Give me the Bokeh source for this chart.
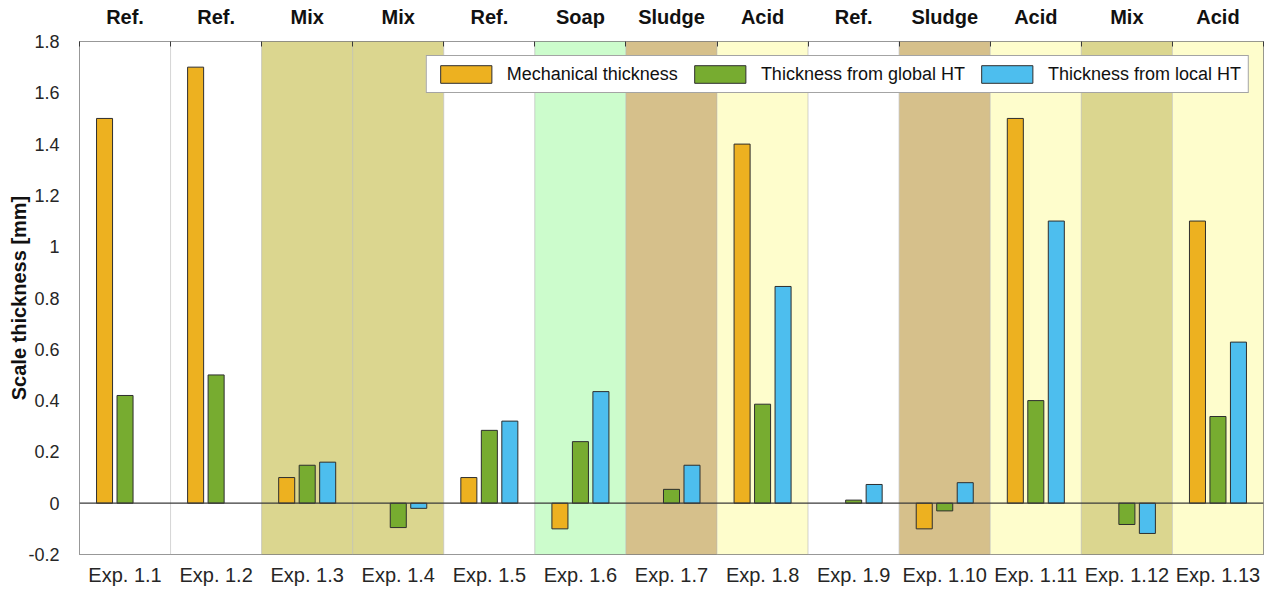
import math
import numpy as np
from bokeh.plotting import figure
from bokeh.models import (Range1d, LinearAxis, FixedTicker, Span, Legend,
                          LegendItem, ColumnDataSource)
from bokeh.embed import file_html
from bokeh.resources import INLINE

nan = math.nan

# ---------------- data ----------------
experiments = ["Exp. 1.1", "Exp. 1.2", "Exp. 1.3", "Exp. 1.4", "Exp. 1.5",
               "Exp. 1.6", "Exp. 1.7", "Exp. 1.8", "Exp. 1.9", "Exp. 1.10",
               "Exp. 1.11", "Exp. 1.12", "Exp. 1.13"]
treatments = ["Ref.", "Ref.", "Mix", "Mix", "Ref.", "Soap", "Sludge", "Acid",
              "Ref.", "Sludge", "Acid", "Mix", "Acid"]
mechanical = [1.50, 1.70, 0.10, nan, 0.10, -0.10, nan, 1.40, nan, -0.10,
              1.50, nan, 1.10]
global_ht = [0.42, 0.50, 0.148, -0.095, 0.284, 0.24, 0.054, 0.386, 0.012,
             -0.03, 0.40, -0.083, 0.338]
local_ht = [nan, nan, 0.16, -0.02, 0.32, 0.435, 0.148, 0.845, 0.073, 0.08,
            1.10, -0.118, 0.628]
series_names = ["Mechanical thickness", "Thickness from global HT",
                "Thickness from local HT"]
y_ticks = [-0.2, 0, 0.2, 0.4, 0.6, 0.8, 1, 1.2, 1.4, 1.6, 1.8]
y_tick_labels = ["-0.2", "0", "0.2", "0.4", "0.6", "0.8", "1", "1.2", "1.4",
                 "1.6", "1.8"]

# ---------------- styles ----------------
FONT = "Liberation Sans"
bar_colors = ["#EDB120", "#77AC30", "#4DBEEE"]
bg_colors = {"Ref.": "#FFFFFF", "Mix": "#DBD68F", "Soap": "#CCFCCC",
             "Sludge": "#D6C08B", "Acid": "#FEFDCC"}
offsets = [-0.225, 0.0, 0.225]
bar_w = 0.176

n = len(experiments)
idx = np.arange(n)
centers = idx + 0.5
boundaries = list(np.arange(n + 1).astype(float))

p = figure(width=1267, height=592, output_backend="svg", toolbar_location=None,
           x_range=Range1d(0, n), y_range=Range1d(y_ticks[0], y_ticks[-1]),
           min_border_left=79, min_border_right=4, min_border_top=41,
           min_border_bottom=38)
p.background_fill_color = "white"
p.border_fill_color = "white"
p.outline_line_color = "#6a6a6a"
p.outline_line_width = 1
p.grid.visible = False

# background patches per treatment
bg = ColumnDataSource(dict(left=idx, right=idx + 1,
                           color=[bg_colors[t] for t in treatments]))
p.quad(left="left", right="right", bottom=y_ticks[0], top=y_ticks[-1],
       fill_color="color", line_color="#b8b8b8", line_alpha=0.45,
       line_width=1, source=bg)

renderers = []
for vals, col, off in zip([mechanical, global_ht, local_ht], bar_colors, offsets):
    src = ColumnDataSource(dict(x=centers + off, top=np.array(vals, dtype=float)))
    r = p.vbar(x="x", top="top", bottom=0, width=bar_w, source=src,
               fill_color=col, line_color="#2e2e2e", line_width=1)
    renderers.append(r)

p.add_layout(Span(location=0, dimension="width", line_color="#3a3a3a",
                  line_width=1.2))

# bottom axis
xa = p.xaxis[0]
xa.ticker = FixedTicker(ticks=list(centers))
xa.major_label_overrides = {float(c): lab for c, lab in zip(centers, experiments)}
xa.major_tick_in = 0
xa.major_tick_out = 0
xa.minor_tick_in = 0
xa.minor_tick_out = 0
xa.axis_line_color = None
xa.major_label_text_font = FONT
xa.major_label_text_font_size = "20px"
xa.major_label_text_color = "#262626"
xa.major_label_standoff = 9

# top axis with treatment labels
ta = LinearAxis(ticker=FixedTicker(ticks=list(centers), minor_ticks=boundaries))
ta.major_label_overrides = {float(c): lab for c, lab in zip(centers, treatments)}
ta.major_tick_in = 0
ta.major_tick_out = 0
ta.minor_tick_in = 5
ta.minor_tick_out = 0
ta.minor_tick_line_color = "#3a3a3a"
ta.axis_line_color = None
ta.major_label_text_font = FONT
ta.major_label_text_font_style = "bold"
ta.major_label_text_font_size = "20px"
ta.major_label_text_color = "#111111"
ta.major_label_standoff = 14
p.add_layout(ta, "above")

# left axis
ya = p.yaxis[0]
ya.ticker = FixedTicker(ticks=y_ticks)
ya.major_label_overrides = {float(t): lab for t, lab in zip(y_ticks, y_tick_labels)}
ya.major_tick_in = 0
ya.major_tick_out = 0
ya.minor_tick_in = 0
ya.minor_tick_out = 0
ya.axis_line_color = None
ya.major_label_text_font = FONT
ya.major_label_text_font_size = "18px"
ya.major_label_text_color = "#262626"
ya.major_label_standoff = 20
ya.axis_label = "Scale thickness [mm]"
ya.axis_label_text_font = FONT
ya.axis_label_text_font_style = "bold"
ya.axis_label_text_font_size = "20px"
ya.axis_label_text_color = "#111111"
ya.axis_label_standoff = -5

legend = Legend(items=[LegendItem(label=nm, renderers=[r])
                       for nm, r in zip(series_names, renderers)],
                location="top_right", orientation="horizontal")
legend.label_text_font = FONT
legend.label_text_font_size = "18px"
legend.label_text_color = "#111111"
legend.glyph_width = 64
legend.glyph_height = 22
legend.label_standoff = 9
legend.spacing = 10
legend.padding = 7
legend.margin = 14
legend.border_line_color = "#4a4a4a"
legend.border_line_width = 1
legend.background_fill_color = "white"
legend.background_fill_alpha = 1
p.add_layout(legend, "center")

open("out.html", "w").write(file_html(p, INLINE))
